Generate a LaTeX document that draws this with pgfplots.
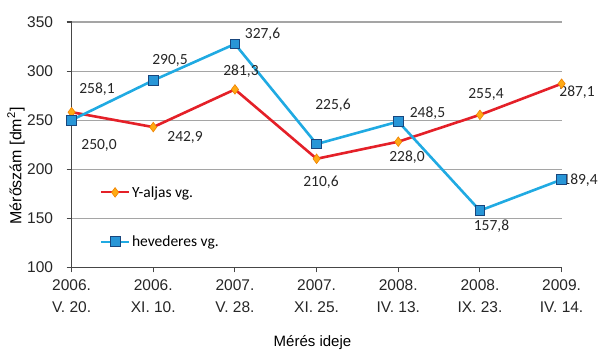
\documentclass[border=0pt]{standalone}
\usepackage{fontspec}
\setmainfont{Liberation Sans}
\newfontfamily\calib{Carlito}
\usepackage{pgfplots}
\pgfplotsset{compat=1.18}
\definecolor{redline}{RGB}{228,32,40}
\definecolor{orangemark}{RGB}{255,170,20}
\definecolor{orangeedge}{RGB}{240,130,0}
\definecolor{blueline}{RGB}{32,170,226}
\definecolor{bluemark}{RGB}{40,150,215}
\definecolor{blueedge}{RGB}{25,70,125}
\definecolor{axisgray}{RGB}{70,70,70}
\definecolor{gridgray}{RGB}{165,165,165}
\begin{document}
\begin{tikzpicture}[x=1pt,y=1pt]
\path[use as bounding box] (0,0) rectangle (601,363);
\begin{axis}[
  at={(71.6pt,95.7pt)}, anchor=south west,
  scale only axis, width=490pt, height=245.3pt,
  xmin=0, xmax=6, ymin=100, ymax=350,
  xtick={0,1,2,3,4,5,6},
  xticklabels={{2006.\\V. 20.},{2006.\\XI. 10.},{2007.\\V. 28.},{2007.\\XI. 25.},{2008.\\IV. 13.},{2008.\\IX. 23.},{2009.\\IV. 14.}},
  ytick={100,150,200,250,300,350},
  axis x line*=bottom, axis y line*=left,
  axis line style={axisgray, line width=1.3pt},
  tick align=outside, major tick length=5pt,
  tick style={axisgray, line width=1.1pt},
  ymajorgrids, grid style={gridgray, line width=1.1pt},
  /pgf/number format/assume math mode=true,
  ticklabel style={font=\fontsize{15.5}{22}\selectfont, text=black!85},
  xticklabel style={align=center, yshift=-4pt},
  yticklabel style={xshift=-10pt},
  xlabel={Mérés ideje},
  xlabel style={at={(rel axis cs:0.4916,-0.3086)}, anchor=center, font=\fontsize{15}{18}\selectfont},
  ylabel={Mérőszám [dm\textsuperscript{2}]},
  ylabel style={at={(rel axis cs:-0.1135,0.413)}, anchor=center, font=\fontsize{16}{18}\selectfont},
  clip=false,
  legend cell align=left,
  legend style={draw=none, fill=none, at={(rel axis cs:0.058,0.205)}, anchor=west,
    font=\calib\fontsize{15.5}{18}\selectfont, row sep=33pt, inner sep=0pt},
  legend image code/.code={
    \draw[line width=1.8pt, mark repeat=2, mark phase=2] plot coordinates {(0pt,0pt) (14pt,0pt) (28pt,0pt)};
  },
]
\addplot[redline, line width=2.6pt, mark=diamond*, mark size=4.8pt,
  mark options={fill=orangemark, draw=orangeedge, line width=0.6pt}]
  coordinates {(0,258.1) (1,242.9) (2,281.3) (3,210.6) (4,228.0) (5,255.4) (6,287.1)};
\addlegendentry{Y-aljas vg.}
\addplot[blueline, line width=2.6pt, mark=square*, mark size=4.8pt,
  mark options={fill=bluemark, draw=blueedge, line width=0.8pt}]
  coordinates {(0,250.0) (1,290.5) (2,327.6) (3,225.6) (4,248.5) (5,157.8) (6,189.4)};
\addlegendentry{hevederes vg.}
\tikzset{lab/.style={font=\calib\fontsize{15.5}{18}\selectfont, text=black!85, inner sep=0pt}}
\node[lab] at (axis cs:0.311,281.2) {258,1};
\node[lab] at (axis cs:0.336,224.6) {250,0};
\node[lab] at (axis cs:1.205,311.1) {290,5};
\node[lab] at (axis cs:1.389,232.8) {242,9};
\node[lab] at (axis cs:2.074,299.9) {281,3};
\node[lab] at (axis cs:2.338,337.3) {327,6};
\node[lab] at (axis cs:3.201,265.4) {225,6};
\node[lab] at (axis cs:3.054,186.4) {210,6};
\node[lab] at (axis cs:4.358,257.3) {248,5};
\node[lab] at (axis cs:4.107,212.4) {228,0};
\node[lab] at (axis cs:5.074,276.6) {255,4};
\node[lab] at (axis cs:6.189,278.1) {287,1};
\node[lab] at (axis cs:6.226,188.5) {189,4};
\node[lab] at (axis cs:5.141,142.1) {157,8};
\end{axis}
\end{tikzpicture}
\end{document}
